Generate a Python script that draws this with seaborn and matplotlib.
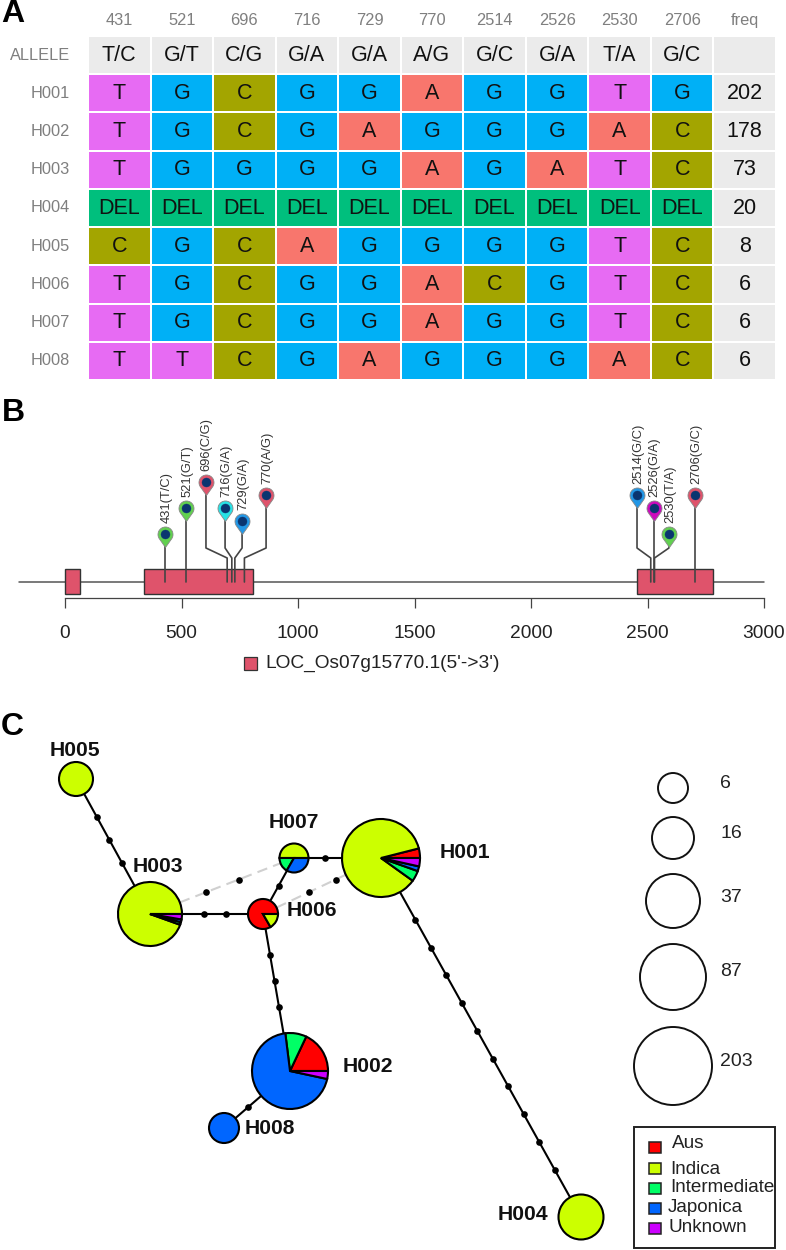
import numpy as np
import pandas as pd
import seaborn as sns
import matplotlib
matplotlib.use("Agg")
import matplotlib.pyplot as plt
from matplotlib.colors import ListedColormap
from matplotlib.patches import Circle, Rectangle
from matplotlib.path import Path

# ---------- data ----------
snp_positions = [431, 521, 696, 716, 729, 770, 2514, 2526, 2530, 2706]
alleles = ["T/C", "G/T", "C/G", "G/A", "G/A", "A/G", "G/C", "G/A", "T/A", "G/C"]
haplotypes = ["H001", "H002", "H003", "H004", "H005", "H006", "H007", "H008"]
hap_H001 = ["T", "G", "C", "G", "G", "A", "G", "G", "T", "G"]
hap_H002 = ["T", "G", "C", "G", "A", "G", "G", "G", "A", "C"]
hap_H003 = ["T", "G", "G", "G", "G", "A", "G", "A", "T", "C"]
hap_H004 = ["DEL"] * 10
hap_H005 = ["C", "G", "C", "A", "G", "G", "G", "G", "T", "C"]
hap_H006 = ["T", "G", "C", "G", "G", "A", "C", "G", "T", "C"]
hap_H007 = ["T", "G", "C", "G", "G", "A", "G", "G", "T", "C"]
hap_H008 = ["T", "T", "C", "G", "A", "G", "G", "G", "A", "C"]
freq = [202, 178, 73, 20, 8, 6, 6, 6]

gene_name = "LOC_Os07g15770.1(5'->3')"
exon_start = [0, 340, 2455]
exon_end = [64, 805, 2783]
gene_span = [-197, 3000]
gene_ticks = [0, 500, 1000, 1500, 2000, 2500, 3000]

groups = ["Aus", "Indica", "Intermediate", "Japonica", "Unknown"]
pie_H001 = [8, 174, 9, 4, 7]
pie_H002 = [32, 0, 16, 124, 6]
pie_H003 = [0, 69, 1, 1, 2]
pie_H004 = [0, 20, 0, 0, 0]
pie_H005 = [0, 8, 0, 0, 0]
pie_H006 = [5, 1, 0, 0, 0]
pie_H007 = [0, 3, 1, 2, 0]
pie_H008 = [0, 0, 0, 6, 0]
solid_edges = [("H005", "H003", 3), ("H003", "H006", 2), ("H006", "H007", 1),
               ("H007", "H001", 1), ("H006", "H002", 3), ("H002", "H008", 1),
               ("H001", "H004", 10)]
dashed_edges = [("H003", "H007"), ("H006", "H001")]
size_legend = [6, 16, 37, 87, 203]

# ---------- layout and style (pixels of the 786x1250 picture) ----------
W, H = 786, 1250
base_colors = {"": "#EBEBEB", "T": "#E76BF3", "G": "#00B0F6", "C": "#A3A500",
               "A": "#F8766D", "DEL": "#00BF7D"}
group_colors = ["#FF0000", "#CCFF00", "#00FF66", "#0066FF", "#CC00FF"]
pin_x = [431, 521, 605, 687, 760, 863, 2455, 2526, 2592, 2706]
pin_y = [534, 508, 482, 508, 521, 495, 495, 508, 534, 495]
pin_color = ["#61D04F", "#61D04F", "#DF536B", "#28E2E5", "#2297E6",
             "#DF536B", "#2297E6", "#CD0BBC", "#61D04F", "#DF536B"]
node_xy = {"H001": (381, 858), "H002": (290, 1071), "H003": (150, 914), "H004": (581, 1217),
           "H005": (76, 779), "H006": (263, 914), "H007": (294, 858), "H008": (224, 1128)}
node_r = {"H001": 39, "H002": 38, "H003": 32, "H004": 22.5,
          "H005": 17, "H006": 15, "H007": 14.5, "H008": 15}
node_label_xy = {"H001": (440, 852), "H002": (343, 1067), "H003": (133, 866), "H004": (498, 1214),
                 "H005": (50, 750), "H006": (287, 910), "H007": (269, 822), "H008": (245, 1128)}
size_y = [788, 838, 901, 977, 1066]
size_r = [15, 21, 27, 33, 39]
size_label_y = [783, 833, 897, 972, 1061]
legend_text_xy = [(672, 1143), (670, 1169), (670, 1188), (668, 1208), (668, 1228)]
legend_square_y = [1147, 1168, 1188, 1208, 1228]

sns.set_theme(style="white")
plt.rcParams["font.family"] = ["Liberation Sans", "DejaVu Sans"]

fig = plt.figure(figsize=(W / 100, H / 100), dpi=100)


def px_axes(x0, y0, x1, y1):
    return fig.add_axes([x0 / W, 1 - y1 / H, (x1 - x0) / W, (y1 - y0) / H])


# ---------- panel A ----------
rows = [alleles, hap_H001, hap_H002, hap_H003, hap_H004, hap_H005, hap_H006, hap_H007, hap_H008]
row_names = ["ALLELE"] + haplotypes
freq_col = [""] + [str(v) for v in freq]
order = list(base_colors)
codes = pd.DataFrame(
    [[order.index(v) if v in order else 0 for v in r] + [0] for r in rows],
    index=row_names, columns=[str(p) for p in snp_positions] + ["freq"])
annot = np.array([list(r) + [f] for r, f in zip(rows, freq_col)], dtype=object)

ax_a = px_axes(88, 36, 776, 380)
sns.heatmap(codes, ax=ax_a, cmap=ListedColormap([base_colors[k] for k in order]),
            vmin=-0.5, vmax=len(order) - 0.5, cbar=False, annot=annot, fmt="",
            annot_kws={"fontsize": 15.5, "color": "#111111"}, linewidths=0.25, linecolor="white")
ax_a.xaxis.tick_top()
ax_a.set_xlabel("")
ax_a.set_ylabel("")
ax_a.tick_params(axis="both", length=0, labelsize=11.8, labelcolor="#7F7F7F")
ax_a.tick_params(axis="x", labelrotation=0, pad=6)
ax_a.tick_params(axis="y", labelrotation=0, pad=13)
for t in ax_a.texts[-8:]:
    t.set_fontsize(15.5)

# ---------- panel B ----------
bp_per_px = 1 / 0.233
ax_b = px_axes(0, 390, W, 690)
ax_b.set_xlim(-65 * bp_per_px, (W - 65) * bp_per_px)
ax_b.set_ylim(690, 390)
ax_b.patch.set_alpha(0)
gene_y, exon_top, exon_bottom, axis_y = 582, 569, 594, 598
ax_b.plot(gene_span, [gene_y, gene_y], color="#555555", lw=1.1, zorder=1)
for s, e in zip(exon_start, exon_end):
    ax_b.add_patch(Rectangle((s, exon_top), e - s, exon_bottom - exon_top,
                             facecolor="#DF536B", edgecolor="#333333", lw=1.0, zorder=2))

theta = np.degrees(np.arccos(7.5 / 13))
arc = Path.arc(-90 + theta, 270 - theta)
pin_verts = np.vstack([arc.vertices * 7.5, [[0, -13]], [[0, 0]]])
pin_codes = list(arc.codes) + [Path.LINETO, Path.CLOSEPOLY]
pin_path = Path(pin_verts, pin_codes)

for pos, allele, px_, py_, col in zip(snp_positions, alleles, pin_x, pin_y, pin_color):
    ax_b.plot([pos, pos, px_, px_], [gene_y, 558, 548, py_], color="#444444", lw=1.2, zorder=3)
    ax_b.plot([px_], [py_], marker=pin_path, ms=26 * 0.72, mfc=col, mec="#888888", mew=0.6,
              ls="none", zorder=4)
    ax_b.plot([px_], [py_], marker="o", ms=9 * 0.72, mfc="#0A3570", mec="#0A3570", mew=0.3,
              ls="none", zorder=5)
    ax_b.text(px_ + 3 * bp_per_px * 0.3, py_ - 11, f"{pos}({allele})", rotation=90, ha="center",
              va="bottom", fontsize=9.3, color="#333333")

for side in ["top", "left", "right"]:
    ax_b.spines[side].set_visible(False)
ax_b.spines["bottom"].set_position(("data", axis_y))
ax_b.spines["bottom"].set_bounds(gene_ticks[0], gene_ticks[-1])
ax_b.spines["bottom"].set_color("#444444")
ax_b.spines["bottom"].set_linewidth(0.9)
ax_b.set_xticks(gene_ticks)
ax_b.set_yticks([])
ax_b.tick_params(axis="x", bottom=True, length=7.2, width=0.9, color="#444444",
                 labelsize=13.8, labelcolor="#222222", pad=12)

# ---------- panel C (and overlay text) ----------
ax_c = fig.add_axes([0, 0, 1, 1])
ax_c.patch.set_alpha(0)


def up(y):
    return H - y


pies = dict(zip(haplotypes, [pie_H001, pie_H002, pie_H003, pie_H004,
                             pie_H005, pie_H006, pie_H007, pie_H008]))


def clipped(a, b):
    (x0, y0), (x1, y1) = node_xy[a], node_xy[b]
    d = np.hypot(x1 - x0, y1 - y0)
    ux, uy = (x1 - x0) / d, (y1 - y0) / d
    return (x0 + ux * node_r[a], y0 + uy * node_r[a]), (x1 - ux * node_r[b], y1 - uy * node_r[b])


for a, b, n in solid_edges:
    p0, p1 = clipped(a, b)
    ax_c.plot([p0[0], p1[0]], [up(p0[1]), up(p1[1])], color="black", lw=1.5, zorder=1,
              solid_capstyle="butt")
    ts = np.arange(1, n + 1) / (n + 1)
    ax_c.plot(p0[0] + ts * (p1[0] - p0[0]), up(p0[1] + ts * (p1[1] - p0[1])), "o",
              color="black", ms=4.8, mew=0, zorder=3)

dashed_dot_frac = np.array([0.392, 0.616])
for a, b in dashed_edges:
    p0, p1 = clipped(a, b)
    ax_c.plot([p0[0], p1[0]], [up(p0[1]), up(p1[1])], color="#D0D0D0", lw=1.5, ls=(0, (5, 3)),
              zorder=1)
    (x0, y0), (x1, y1) = node_xy[a], node_xy[b]
    ax_c.plot(x0 + dashed_dot_frac * (x1 - x0), up(y0 + dashed_dot_frac * (y1 - y0)), "o",
              color="black", ms=4.8, mew=0, zorder=3)

for h in haplotypes:
    vals = [v for v in pies[h] if v > 0]
    cols = [c for v, c in zip(pies[h], group_colors) if v > 0]
    x, y = node_xy[h]
    ax_c.pie(vals, colors=cols, center=(x, up(y)), radius=node_r[h], startangle=0, frame=True,
             wedgeprops={"edgecolor": "black", "linewidth": 1.5, "zorder": 2})
    lx, ly = node_label_xy[h]
    ax_c.text(lx, up(ly), h, fontsize=15.2, fontweight="bold", color="#111111",
              ha="left", va="center", zorder=4)

for n, y, r, ly in zip(size_legend, size_y, size_r, size_label_y):
    ax_c.add_patch(Circle((673, up(y)), r, facecolor="white", edgecolor="#111111", lw=1.4))
    ax_c.text(720, up(ly), str(n), fontsize=14, color="#222222", ha="left", va="center")

ax_c.add_patch(Rectangle((634, up(1248)), 141, 121, facecolor="white", edgecolor="#222222", lw=1.4))
for g, c, y, (tx, ty) in zip(groups, group_colors, legend_square_y, legend_text_xy):
    ax_c.add_patch(Rectangle((648.5, up(y + 5.5)), 12, 11, facecolor=c, edgecolor="#222222", lw=1.1))
    ax_c.text(tx, up(ty), g, fontsize=13.6, color="#222222", ha="left", va="center")

ax_c.add_patch(Rectangle((243.5, up(670)), 13, 13, facecolor="#DF536B", edgecolor="#333333", lw=0.9))
ax_c.text(265, up(663), gene_name, fontsize=13.8, color="#222222", ha="left", va="center")

for letter, lx, ly in [("A", 1, 14), ("B", 2, 413), ("C", 1, 727)]:
    ax_c.text(lx, up(ly), letter, fontsize=23, fontweight="bold", color="black",
              ha="left", va="center")

ax_c.set_xlim(0, W)
ax_c.set_ylim(0, H)
ax_c.set_aspect("auto")
ax_c.set_xticks([])
ax_c.set_yticks([])
for s in ax_c.spines.values():
    s.set_visible(False)

fig.savefig("out.png", dpi=100)
